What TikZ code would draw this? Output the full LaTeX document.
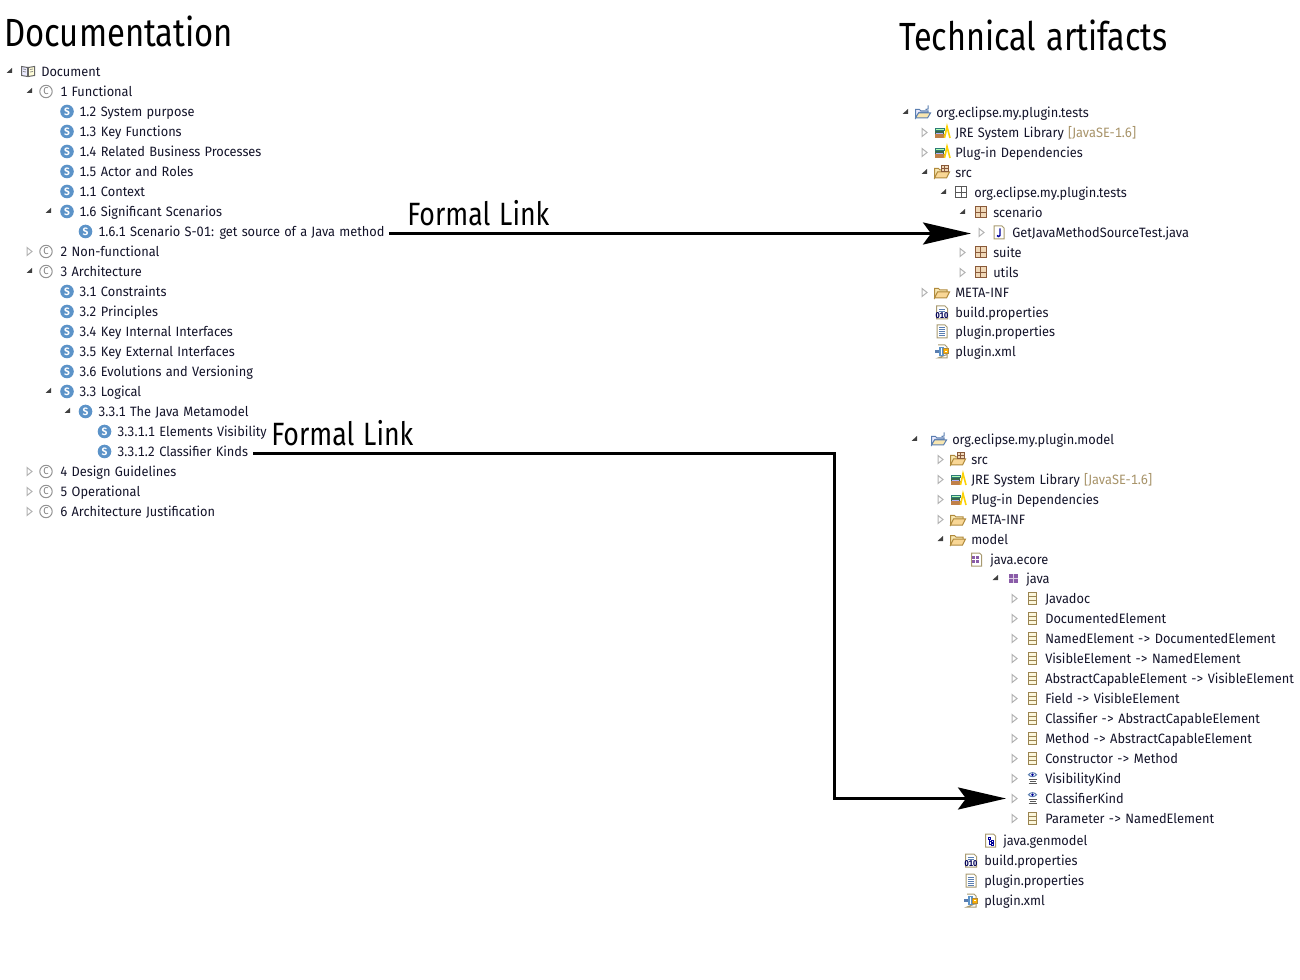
\documentclass[tikz,border=0pt]{standalone}
\usepackage{fontspec}
\usepackage{graphicx}
\usetikzlibrary{arrows.meta}
\setmainfont[FakeStretch=0.945,WordSpace=1.25,Numbers=Monospaced]{Fira Sans}
\definecolor{txt}{HTML}{14142A}
\definecolor{tan}{HTML}{A8946A}
\definecolor{folderE}{HTML}{B08A3C}
\definecolor{folderF}{HTML}{F8E6B0}
\definecolor{sblue}{HTML}{5C93C8}
\definecolor{pkgE}{HTML}{8A5A3A}
\definecolor{pkgF}{HTML}{F0D8B8}
\definecolor{purp}{HTML}{8A5CA8}
\definecolor{clsE}{HTML}{9A8450}
\definecolor{clsF}{HTML}{FBF6DC}
\definecolor{pageE}{HTML}{A89A70}
\definecolor{lineB}{HTML}{5A7EB0}
\definecolor{libT}{HTML}{2E7A78}
\definecolor{libM}{HTML}{3A6A4A}
\definecolor{libB}{HTML}{C08048}
\newcommand\rowfont{\fontsize{10.15pt}{12pt}\selectfont}
\newcommand\titlefont{\fontsize{31pt}{36pt}\selectfont}
\tikzset{
  x=0.75pt,y=-0.75pt,
  rowtext/.style={anchor=base west,inner sep=0pt,text=txt,font=\rowfont},
  titletext/.style={anchor=base west,inner sep=0pt,text=black,font=\titlefont},
  flink/.style={line width=2.25pt,draw=black,-{Stealth[length=36pt,width=16.5pt,inset=6pt]}},
  px/.style={line width=0.75pt},
}
\newcommand\icS{\fill[sblue] (0,0) circle (6.8);\node[inner sep=0,text=white,font=\fontsize{8pt}{8pt}\selectfont\bfseries] at (0,0) {S};}
\newcommand\icC{\draw[px,draw=gray!85] (0,0) circle (6.2);\node[inner sep=0,text=gray,font=\fontsize{7.5pt}{8pt}\selectfont] at (0,0) {C};}
\newcommand\icB{\draw[px,draw=gray!80!black,fill=blue!8] (-6.5,-5) -- (-.3,-4) -- (-.3,5) -- (-6.5,4) -- cycle;
  \draw[px,draw=gray!80!black,fill=yellow!15] (6.5,-5) -- (.3,-4) -- (.3,5) -- (6.5,4) -- cycle;
  \draw[draw=gray,line width=.5pt] (-5,-2.5)--(-2,-2) (-5,0)--(-2,.5) (2,-2)--(5,-2.5) (2,.5)--(5,0);}
\newcommand\icFolder{\draw[px,draw=folderE,fill=folderF] (-7.5,5.5) -- (-7.5,-4) -- (-3.5,-4) -- (-2,-2.5) -- (5,-2.5) -- (5,0) -- (-4,0) -- cycle;
  \draw[px,draw=folderE,fill=folderF!85!orange] (-7.5,5.5) -- (-4.5,-.5) -- (7.5,-.5) -- (4.5,5.5) -- cycle;}
\newcommand\icSrc{\icFolder\draw[px,draw=pkgE,fill=pkgF] (-.5,-6.5) rectangle (6,-.5);\draw[px,draw=pkgE] (2.7,-6.5)--(2.7,-.5) (-.5,-3.5)--(6,-3.5);}
\newcommand\icProj{\draw[px,draw=lineB,fill=blue!8] (-7.5,5.5) -- (-7.5,-3) -- (-3.5,-3) -- (-2,-1.5) -- (5,-1.5) -- (5,0) -- (-4,0) -- cycle;
  \draw[px,draw=lineB,fill=folderF] (-7.5,5.5) -- (-4.5,.5) -- (7.5,.5) -- (4.5,5.5) -- cycle;
  \draw[px,draw=lineB] (5,-7) -- (5,-3.5) -- (2.5,-3);}
\newcommand\icLib{\fill[libT] (-7,-4) rectangle (2.5,-1);\fill[libM] (-7.5,-1) rectangle (2,2);\fill[libB] (-7.5,2) rectangle (3,5.5);
  \fill[white!70!green] (-6,-3) rectangle (1.5,-2.2);\fill[white!70!blue] (-6,.2) rectangle (1,.9);
  \draw[line width=1.2pt,draw=yellow!70!orange] (2.5,5.5) -- (5,-6) -- (8,5.5);}
\newcommand\icGrid{\draw[px,draw=gray!70!black] (-5.5,-5.5) rectangle (5.5,5.5);\draw[px,draw=gray!70!black] (0,-5.5)--(0,5.5) (-5.5,0)--(5.5,0);}
\newcommand\icPkg{\fill[pkgF] (-5.5,-5.5) rectangle (5.5,5.5);\draw[px,draw=pkgE] (-5.5,-5.5) rectangle (5.5,5.5);\draw[line width=1.1pt,draw=pkgE] (0,-5.5)--(0,5.5) (-5.5,0)--(5.5,0);}
\newcommand\icJava{\draw[px,draw=pageE,fill=white] (-5,-6.5) -- (3,-6.5) -- (5,-4.5) -- (5,6.5) -- (-5,6.5) -- cycle;
  \draw[line width=1.1pt,draw=blue!60!black] (1,-4) -- (1,3) -- (-.5,4) -- (-2,3);}
\newcommand\icProps{\draw[px,draw=pageE,fill=white] (-5.5,-6.5) -- (3,-6.5) -- (5.5,-4) -- (5.5,6.5) -- (-5.5,6.5) -- cycle;
  \draw[draw=lineB,line width=.6pt] (-3.5,-3.5)--(3,-3.5) (-3.5,-1.5)--(3,-1.5);
  \node[inner sep=0,text=blue!35!black,font=\fontsize{6.3pt}{6pt}\selectfont\bfseries] at (0,3) {\scalebox{.95}[1]{010}};}
\newcommand\icText{\draw[px,draw=pageE,fill=white] (-5,-6.5) -- (3,-6.5) -- (5,-4.5) -- (5,6.5) -- (-5,6.5) -- cycle;
  \draw[px,draw=lineB] (-3,-3.5)--(2.5,-3.5) (-3,-1.5)--(3,-1.5) (-3,.5)--(3,.5) (-3,2.5)--(3,2.5) (-3,4.5)--(3,4.5);}
\newcommand\icXml{\draw[px,draw=pageE,fill=white] (-4,-6.5) -- (3,-6.5) -- (5,-4.5) -- (5,-1) (5,3) -- (5,6.5) -- (-4,6.5) -- cycle;
  \fill[sblue] (-3,-4.5) rectangle (1.5,4.5);\fill[lineB] (-7,-1.5) rectangle (-3,1.5);\fill[white] (-1.5,-3.5) rectangle (-.5,3.5);
  \draw[px,draw=folderE,fill=orange!60!yellow] (1.5,-2.5) rectangle (6.5,2.5);\fill[white] (3.2,-.8) rectangle (5,.8);}
\newcommand\icEcore{\draw[px,draw=pageE,fill=white] (-5,-6.5) -- (3,-6.5) -- (5,-4.5) -- (5,6.5) -- (-5,6.5) -- cycle;
  \fill[purp] (-4.5,-3.5) rectangle (2.5,3.5);\draw[draw=white,line width=.5pt] (-1,-3.5)--(-1,3.5) (-4.5,0)--(2.5,0);}
\newcommand\icPurp{\fill[purp] (-4.5,-4.5) rectangle (4.5,4.5);\draw[draw=white!70!purp,line width=.6pt] (0,-4.5)--(0,4.5) (-4.5,0)--(4.5,0);}
\newcommand\icCls{\draw[px,draw=clsE,fill=clsF] (-4,-6) rectangle (4,6);\draw[px,draw=clsE] (-4,-2)--(4,-2) (-4,2)--(4,2);}
\newcommand\icEnum{\draw[px,draw=lineB,fill=white] (-4,-3.8) .. controls (-2,-6.5) and (2,-6.5) .. (4,-3.8) .. controls (2,-1.2) and (-2,-1.2) .. (-4,-3.8) -- cycle;
  \fill[blue!60!black] (0,-3.8) circle (1.4);
  \draw[px,draw=gray!70!black] (-4,.5)--(4,.5) (-3,2.8)--(3,2.8) (-4,5)--(4,5);}
\newcommand\icGen{\draw[px,draw=pageE,fill=white] (-5,-6.5) -- (3,-6.5) -- (5,-4.5) -- (5,6.5) -- (-5,6.5) -- cycle;
  \draw[px,draw=blue!60!black] (-2.5,-3.5) rectangle (0,-1) (.5,-.5) rectangle (3,2) (.5,2.5) rectangle (3,5) (-1.2,-1)--(-1.2,4)--(.5,4) (-1.2,.8)--(.5,.8);}
\newcommand\icNone{}
\newcommand\tgo[2]{\fill[black!75] (#1+3,#2-3.5) -- (#1+3,#2+1.5) -- (#1-2.5,#2+1.5) -- cycle;}
\newcommand\tgc[2]{\draw[px,draw=gray!60,fill=white] (#1-2,#2-4) -- (#1+3,#2) -- (#1-2,#2+4) -- cycle;}
\newcommand\tgn[2]{}
% \R{name}{o|c|n}{toggle x}{icon}{icon x}{text x}{y}{text}
\newcommand\R[8]{%
  \csname tg#2\endcsname{#3}{#7}%
  \begin{scope}[shift={(#5,#7)}]\csname ic#4\endcsname\end{scope}%
  \node[rowtext] (#1) at (#6,#7+4.8) {#8};}
\begin{document}
\begin{tikzpicture}
\useasboundingbox[fill=white] (0,0) rectangle (1300,980);
% titles
\node[titletext] (tdoc) at (4,46.5) {\scalebox{.84}[.95]{Documentation}};
\node[titletext] (ttech) at (899,50.5) {\scalebox{.828}[.95]{Technical artifacts}};
\node[titletext] (fl1) at (407,225.5) {\scalebox{.684}[.78]{Formal Link}};
\node[titletext] (fl2) at (271,445.5) {\scalebox{.684}[.78]{Formal Link}};
% documentation tree
\R{d0}{o}{9}{B}{28}{41}{71.5}{Document}
\R{d1}{o}{29}{C}{46}{60}{91.5}{1 Functional}
\R{d12}{n}{0}{S}{67}{79}{111.5}{1.2 System purpose}
\R{d13}{n}{0}{S}{67}{79}{131.5}{1.3 Key Functions}
\R{d14}{n}{0}{S}{67}{79}{151.5}{1.4 Related Business Processes}
\R{d15}{n}{0}{S}{67}{79}{171.5}{1.5 Actor and Roles}
\R{d11}{n}{0}{S}{67}{79}{191.5}{1.1 Context}
\R{d16}{o}{48}{S}{67}{79}{211.5}{1.6 Significant Scenarios}
\R{d161}{n}{0}{S}{85.5}{98}{231.5}{1.6.1 Scenario S-01: get source of a Java method}
\R{d2}{c}{29}{C}{46}{60}{251.5}{2 Non-functional}
\R{d3}{o}{29}{C}{46}{60}{271.5}{3 Architecture}
\R{d31}{n}{0}{S}{67}{79}{291.5}{3.1 Constraints}
\R{d32}{n}{0}{S}{67}{79}{311.5}{3.2 Principles}
\R{d34}{n}{0}{S}{67}{79}{331.5}{3.4 Key Internal Interfaces}
\R{d35}{n}{0}{S}{67}{79}{351.5}{3.5 Key External Interfaces}
\R{d36}{n}{0}{S}{67}{79}{371.5}{3.6 Evolutions and Versioning}
\R{d33}{o}{48}{S}{67}{79}{391.5}{3.3 Logical}
\R{d331}{o}{67}{S}{85.5}{98}{411.5}{3.3.1 The Java Metamodel}
\R{d3311}{n}{0}{S}{104.5}{117}{431.5}{3.3.1.1 Elements Visibility}
\R{d3312}{n}{0}{S}{104.5}{117}{451.5}{3.3.1.2 Classifier Kinds}
\R{d4}{c}{29}{C}{46}{60}{471.5}{4 Design Guidelines}
\R{d5}{c}{29}{C}{46}{60}{491.5}{5 Operational}
\R{d6}{c}{29}{C}{46}{60}{511.5}{6 Architecture Justification}
% tests project
\R{a0}{o}{905}{Proj}{923}{936}{112.5}{org.eclipse.my.plugin.tests}
\R{a1}{c}{924}{Lib}{942}{955}{132.5}{JRE System Library \textcolor{tan}{[JavaSE-1.6]}}
\R{a2}{c}{924}{Lib}{942}{955}{152.5}{Plug-in Dependencies}
\R{a3}{o}{924}{Src}{942}{955}{172.5}{src}
\R{a4}{o}{943}{Grid}{961}{974}{192.5}{org.eclipse.my.plugin.tests}
\R{a5}{o}{962}{Pkg}{980.5}{993}{212.5}{scenario}
\R{a6}{c}{981}{Java}{999}{1012}{232.5}{GetJavaMethodSourceTest.java}
\R{a7}{c}{962}{Pkg}{980.5}{993}{252.5}{suite}
\R{a8}{c}{962}{Pkg}{980.5}{993}{272.5}{utils}
\R{a9}{c}{924}{Folder}{942}{955}{292.5}{META-INF}
\R{a10}{n}{0}{Props}{942}{955}{312.5}{build.properties}
\R{a11}{n}{0}{Text}{942}{955}{331.5}{plugin.properties}
\R{a12}{n}{0}{Xml}{942}{955}{351.5}{plugin.xml}
% model project
\R{m0}{o}{914}{Proj}{939}{952}{439.5}{org.eclipse.my.plugin.model}
\R{m1}{c}{940}{Src}{958}{971}{459.5}{src}
\R{m2}{c}{940}{Lib}{958}{971}{479.5}{JRE System Library \textcolor{tan}{[JavaSE-1.6]}}
\R{m3}{c}{940}{Lib}{958}{971}{499.5}{Plug-in Dependencies}
\R{m4}{c}{940}{Folder}{958}{971}{519.5}{META-INF}
\R{m5}{o}{940}{Folder}{958}{971}{539.5}{model}
\R{m6}{n}{0}{Ecore}{976.5}{990}{559.5}{java.ecore}
\R{m7}{o}{995}{Purp}{1013.5}{1026}{578.5}{java}
\R{c1}{c}{1014}{Cls}{1032.5}{1045}{598.5}{Javadoc}
\R{c2}{c}{1014}{Cls}{1032.5}{1045}{618.5}{DocumentedElement}
\R{c3}{c}{1014}{Cls}{1032.5}{1045}{638.5}{NamedElement -> DocumentedElement}
\R{c4}{c}{1014}{Cls}{1032.5}{1045}{658.5}{VisibleElement -> NamedElement}
\R{c5}{c}{1014}{Cls}{1032.5}{1045}{678.5}{AbstractCapableElement -> VisibleElement}
\R{c6}{c}{1014}{Cls}{1032.5}{1045}{698.5}{Field -> VisibleElement}
\R{c7}{c}{1014}{Cls}{1032.5}{1045}{718.5}{Classifier -> AbstractCapableElement}
\R{c8}{c}{1014}{Cls}{1032.5}{1045}{738.5}{Method -> AbstractCapableElement}
\R{c9}{c}{1014}{Cls}{1032.5}{1045}{758.5}{Constructor -> Method}
\R{c10}{c}{1014}{Enum}{1032.5}{1045}{778.5}{VisibilityKind}
\R{c11}{c}{1014}{Enum}{1032.5}{1045}{798.5}{ClassifierKind}
\R{c12}{c}{1014}{Cls}{1032.5}{1045}{818.5}{Parameter -> NamedElement}
\R{m8}{n}{0}{Gen}{990.5}{1003}{840.5}{java.genmodel}
\R{m9}{n}{0}{Props}{971}{984}{860.5}{build.properties}
\R{m10}{n}{0}{Text}{971}{984}{880.5}{plugin.properties}
\R{m11}{n}{0}{Xml}{971}{984}{900.5}{plugin.xml}
% connectors
\coordinate (endA) at (971,233.5);
\coordinate (endB) at (1006,798.5);
\coordinate (bendB) at (834.5,453.5);
\draw[flink] ([xshift=3pt]d161.base east |- endA) -- (endA);
\draw[flink] ([xshift=3.5pt]d3312.base east |- bendB) -- (bendB) |- (endB);
\end{tikzpicture}
\end{document}
